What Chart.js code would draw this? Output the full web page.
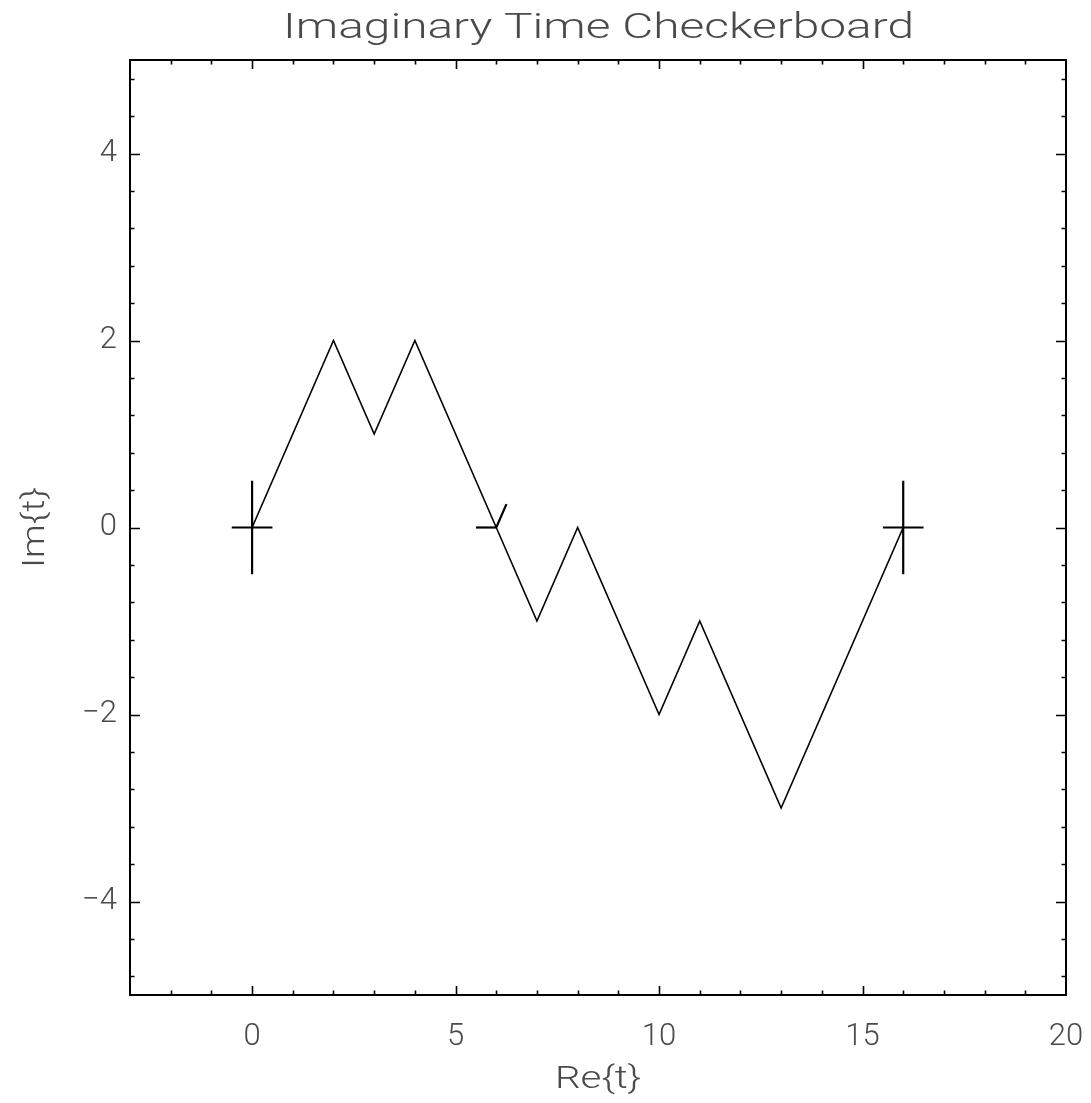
<!DOCTYPE html>
<html>
<head>
<meta charset="utf-8">
<script src="https://cdn.jsdelivr.net/npm/chart.js@4.4.0/dist/chart.umd.min.js"></script>
<style>
html,body{margin:0;padding:0;background:#fff;}
#wrap{width:1091px;height:1103px;position:relative;}
</style>
</head>
<body>
<div id="wrap"><canvas id="c"></canvas></div>
<script>
// ---- data ----
const pathX = [0, 2, 3, 4, 6, 7, 8, 10, 11, 13, 16];
const pathY = [0, 2, 1, 2, 0, -1, 0, -2, -1, -3, 0];
// marker segments (start x, start y, end x, end y)
const markerSegs = [
  [-0.5, 0, 0.5, 0], [0, -0.5, 0, 0.5],
  [5.5, 0, 6, 0], [6, 0, 6.25, 0.25],
  [15.5, 0, 16.5, 0], [16, -0.5, 16, 0.5]
];
const xMin = -3, xMax = 20, xMinorStep = 1;
const yMin = -5, yMax = 5, yMinorStep = 0.4;
const xTickVals = [0, 5, 10, 15, 20];
const yTickVals = [-4, -2, 0, 2, 4];
const titleText = 'Imaginary Time Checkerboard';
const xTitle = 'Re{t}';
const yTitle = 'Im{t}';

const TEXT = '#4a4a4a';
const FONT = 'Roboto, "DejaVu Sans", sans-serif';

const datasets = [{
  data: pathX.map((x, i) => ({x: x, y: pathY[i]})),
  showLine: true, borderColor: '#000', borderWidth: 1.6,
  pointRadius: 0, fill: false, tension: 0
}];
markerSegs.forEach(s => datasets.push({
  data: [{x: s[0], y: s[1]}, {x: s[2], y: s[3]}],
  showLine: true, borderColor: '#000', borderWidth: 2.2,
  pointRadius: 0, fill: false, tension: 0
}));

function fitText(ctx, txt, x, y, targetW, font) {
  ctx.font = font;
  const w = ctx.measureText(txt).width;
  const sx = targetW / w;
  ctx.save();
  ctx.translate(x, y);
  ctx.scale(sx, 1);
  ctx.fillText(txt, 0, 0);
  ctx.restore();
}

const isIn = (v, arr) => arr.some(t => Math.abs(t - v) < 1e-6);

const framePlugin = {
  id: 'frame',
  afterDraw(chart) {
    const ctx = chart.ctx, a = chart.chartArea;
    const xs = chart.scales.x, ys = chart.scales.y;
    ctx.save();
    ctx.strokeStyle = '#000';
    ctx.lineWidth = 2;
    ctx.strokeRect(a.left, a.top, a.right - a.left, a.bottom - a.top);
    ctx.lineWidth = 1.6;
    ctx.beginPath();
    for (let k = Math.ceil(xMin / xMinorStep + 1e-9); k * xMinorStep < xMax - 1e-9; k++) {
      const v = k * xMinorStep;
      if (v <= xMin + 1e-9) continue;
      const len = isIn(v, xTickVals) ? 9 : 4.5;
      const px = Math.round(xs.getPixelForValue(v)) + 0.5;
      ctx.moveTo(px, a.bottom); ctx.lineTo(px, a.bottom - len);
      ctx.moveTo(px, a.top); ctx.lineTo(px, a.top + len);
    }
    for (let k = Math.ceil(yMin / yMinorStep + 1e-9); k * yMinorStep < yMax - 1e-9; k++) {
      const v = k * yMinorStep;
      if (v <= yMin + 1e-9) continue;
      const len = isIn(v, yTickVals) ? 10 : 4.5;
      const py = Math.round(ys.getPixelForValue(v)) + 0.5;
      ctx.moveTo(a.left, py); ctx.lineTo(a.left + len, py);
      ctx.moveTo(a.right, py); ctx.lineTo(a.right - len, py);
    }
    ctx.stroke();
    ctx.fillStyle = TEXT;
    ctx.textAlign = 'left';
    ctx.textBaseline = 'alphabetic';
    fitText(ctx, titleText, 283, 38, 631, '300 35px ' + FONT);
    fitText(ctx, xTitle, 555, 1088, 86, '300 32px ' + FONT);
    ctx.save();
    ctx.translate(44, 568);
    ctx.rotate(-Math.PI / 2);
    fitText(ctx, yTitle, 0, 0, 81, '300 32px ' + FONT);
    ctx.restore();
    ctx.restore();
  }
};

const fmt = v => String(v).replace('-', '\u2212');

new Chart(document.getElementById('c'), {
  type: 'scatter',
  data: {datasets},
  plugins: [framePlugin],
  options: {
    responsive: true, maintainAspectRatio: false, animation: false,
    layout: {padding: {top: 60, right: 25, left: 0, bottom: 0}},
    plugins: {legend: {display: false}, tooltip: {enabled: false}, title: {display: false}},
    scales: {
      x: {
        type: 'linear', min: xMin, max: xMax, position: 'bottom',
        afterFit: s => { s.height = 108; s.paddingLeft = 0; s.paddingRight = 0; },
        afterBuildTicks: s => { s.ticks = xTickVals.map(v => ({value: v})); },
        grid: {display: false, drawTicks: false}, border: {display: false},
        ticks: {padding: 24, color: TEXT, maxRotation: 0,
          font: {family: FONT, size: 31, weight: 300}, callback: fmt}
      },
      y: {
        type: 'linear', min: yMin, max: yMax,
        afterFit: s => { s.width = 130; s.paddingTop = 0; s.paddingBottom = 0; },
        afterBuildTicks: s => { s.ticks = yTickVals.map(v => ({value: v})); },
        grid: {display: false, drawTicks: false}, border: {display: false},
        ticks: {padding: 13, color: TEXT,
          font: {family: FONT, size: 31, weight: 300}, callback: fmt}
      }
    }
  }
});
</script>
</body>
</html>
